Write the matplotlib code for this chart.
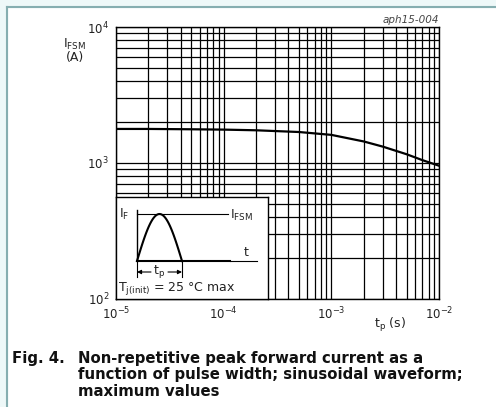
import numpy as np
import matplotlib.pyplot as plt
from matplotlib.patches import Rectangle
from matplotlib.lines import Line2D

# curve
tp = [1e-5, 2e-5, 5e-5, 1e-4, 2e-4, 5e-4, 1e-3, 2e-3, 3e-3, 5e-3, 7e-3, 1e-2]
ifsm = [1780, 1780, 1770, 1760, 1740, 1690, 1610, 1440, 1320, 1160, 1050, 955]

x_ticks = [1e-5, 1e-4, 1e-3, 1e-2]
x_ticklabels = [r'$10^{-5}$', r'$10^{-4}$', r'$10^{-3}$', r'$10^{-2}$']
y_ticks = [1e2, 1e3, 1e4]
y_ticklabels = [r'$10^{2}$', r'$10^{3}$', r'$10^{4}$']

plt.rcParams['font.family'] = ['DejaVu Sans']
plt.rcParams['mathtext.fontset'] = 'dejavusans'

W, H = 496, 407
fig = plt.figure(figsize=(W / 100, H / 100), dpi=100)
fig.patch.set_facecolor('white')

# page frame
fig.patches.append(Rectangle((0, 0), 7 / W, 1, transform=fig.transFigure,
                             color='#eef8f8', zorder=0))
fig.patches.append(Rectangle((0, 1 - 7 / H), 1, 7 / H, transform=fig.transFigure,
                             color='#eef8f8', zorder=0))
fig.lines.append(Line2D([7 / W, 7 / W], [0, 1 - 7 / H], transform=fig.transFigure,
                        color='#86aeb0', lw=1.5))
fig.lines.append(Line2D([7 / W, 1], [1 - 7 / H, 1 - 7 / H], transform=fig.transFigure,
                        color='#86aeb0', lw=1.5))

ax = fig.add_axes([116 / W, 1 - 299 / H, 323 / W, 272 / H])
ax.set_xscale('log')
ax.set_yscale('log')
ax.set_xlim(1e-5, 1e-2)
ax.set_ylim(1e2, 1e4)
ax.grid(True, which='both', color='black', lw=0.9)
ax.set_axisbelow(True)
for name in ['bottom', 'left', 'top', 'right']:
    ax.spines[name].set_linewidth(1.0)
ax.set_xticks(x_ticks, x_ticklabels)
ax.set_yticks(y_ticks, y_ticklabels)
ax.tick_params(which='both', length=0, labelsize=8.5, colors='#222222')
ax.tick_params(axis='y', pad=5)
ax.tick_params(axis='x', pad=5)

ax.plot(tp, ifsm, color='black', lw=1.6, zorder=3)

fig.text(75 / W, 1 - 44 / H, r'$\mathregular{I_{FSM}}$', ha='center', va='center',
         fontsize=9, color='#222222')
fig.text(75 / W, 1 - 58 / H, '(A)', ha='center', va='center', fontsize=9,
         color='#222222')
fig.text(390 / W, 1 - 325 / H, r'$\mathregular{t_p}$ (s)', ha='center', va='center',
         fontsize=9, color='#222222')
fig.text(439 / W, 1 - 20 / H, 'aph15-004', ha='right', va='center', fontsize=7.5,
         style='italic', color='#444444')

# inset with pulse shape
ins = ax.inset_axes([0, 0, 152 / 323, 102 / 272])
ins.set_xlim(0, 152)
ins.set_ylim(0, 102)
ins.set_facecolor('white')
ins.set_xticks([])
ins.set_yticks([])
for name in ['bottom', 'left', 'top', 'right']:
    ins.spines[name].set_linewidth(1.0)
ins.set_zorder(4)

t = np.linspace(0, np.pi, 60)
ins.plot(21 + 45 * t / np.pi, 38 + 47 * np.sin(t), color='black', lw=1.5)
ins.plot([21, 21], [38, 89], color='black', lw=1.0)
ins.plot([21, 112], [85, 85], color='black', lw=0.8)
ins.plot([21, 114], [38, 38], color='black', lw=1.5)
ins.plot([114, 141], [38, 38], color='black', lw=0.8)
ins.plot([21, 21], [38, 22], color='black', lw=0.8)
ins.plot([66, 66], [38, 22], color='black', lw=0.8)
ins.annotate('', xy=(21, 27), xytext=(35, 27),
             arrowprops=dict(arrowstyle='-|>', color='black', lw=0.8,
                             mutation_scale=6, shrinkA=0, shrinkB=0))
ins.annotate('', xy=(66, 27), xytext=(52, 27),
             arrowprops=dict(arrowstyle='-|>', color='black', lw=0.8,
                             mutation_scale=6, shrinkA=0, shrinkB=0))
ins.text(43.5, 28, r'$\mathregular{t_p}$', ha='center', va='center', fontsize=9,
         color='#222222')
ins.text(3, 85, r'$\mathregular{I_F}$', ha='left', va='center', fontsize=9,
         color='#222222')
ins.text(114, 84, r'$\mathregular{I_{FSM}}$', ha='left', va='center', fontsize=9,
         color='#222222')
ins.text(130, 46, 't', ha='center', va='center', fontsize=9, color='#222222')
ins.text(2, 11, r'$\mathregular{T_{j(init)}}$ = 25 °C max', ha='left', va='center',
         fontsize=9, color='#222222')

# caption
fig.text(12 / W, 1 - 358 / H, 'Fig. 4.', ha='left', va='center', fontsize=10.75,
         fontweight='bold', color='#111111')
caption = ['Non-repetitive peak forward current as a',
           'function of pulse width; sinusoidal waveform;',
           'maximum values']
for i, line in enumerate(caption):
    fig.text(78 / W, 1 - (358 + 16.5 * i) / H, line, ha='left', va='center',
             fontsize=10.75, fontweight='bold', color='#111111')

fig.savefig('out.png', dpi=100)
